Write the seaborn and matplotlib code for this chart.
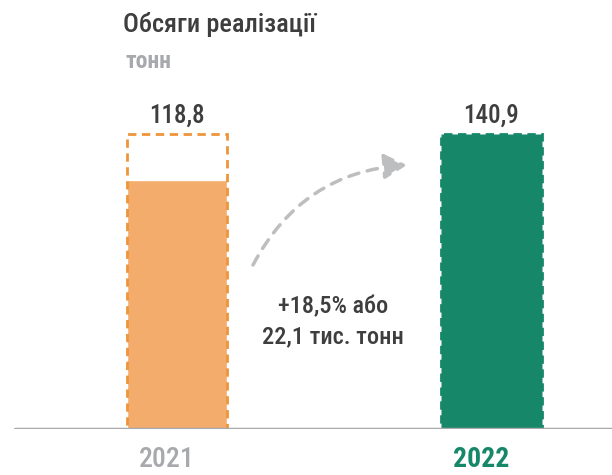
import matplotlib
matplotlib.use("Agg")
import matplotlib.pyplot as plt
import matplotlib.font_manager as fm
from matplotlib.transforms import ScaledTranslation
import seaborn as sns
import pandas as pd

# data
years = ["2021", "2022"]
volumes = [118.8, 140.9]
value_labels = ["118,8", "140,9"]
change_lines = ["+18,5% або", "22,1 тис. тонн"]
title = "Обсяги реалізації"
unit = "тонн"

ORANGE = "#F3AC6B"
ORANGE_EDGE = "#EE953A"
GREEN = "#17876A"
GREY = "#A7A9AC"
DARK = "#3E3E3E"

sns.set_theme(style="white")

# look for a narrow font, the original uses a condensed face
font = {"family": "Roboto", "stretch": "normal"}
names = {f.name for f in fm.fontManager.ttflist}
narrow = [f for f in fm.fontManager.ttflist
          if f.stretch in ("condensed", "semi-condensed", "extra-condensed")
          and f.name in ("Roboto", "Noto Sans", "Open Sans", "DejaVu Sans", "Liberation Sans")]
if "Roboto Condensed" in names:
    font = {"family": "Roboto Condensed", "stretch": "normal"}
elif "Liberation Sans Narrow" in names:
    font = {"family": "Liberation Sans Narrow", "stretch": "normal"}
elif narrow:
    font = {"family": narrow[0].name, "stretch": narrow[0].stretch}
plt.rcParams["font.family"] = [font["family"], "DejaVu Sans"]
plt.rcParams["font.stretch"] = font["stretch"]

W, H = 612, 475
fig = plt.figure(figsize=(W / 100, H / 100), dpi=100)
base = 429
ax = fig.add_axes([0, (H - base) / H, 1, base / H])

df = pd.DataFrame({"year": years, "volume": volumes})
bar_w = 0.32
sns.barplot(data=df, x="year", y="volume", hue="year",
            palette=[ORANGE, GREEN], width=bar_w, legend=False, ax=ax,
            saturation=1)

top = max(volumes)
# dashed frame for 2021 up to the 2022 level
ax.bar(0, top, width=bar_w, fill=False, edgecolor=ORANGE_EDGE,
       linestyle=(0, (3, 2)), linewidth=2, zorder=3)
p = ax.patches[1]
p.set_edgecolor(GREEN)
p.set_linestyle((0, (3, 2)))
p.set_linewidth(2)

ax.set_xlim(-177 / 314.5, 1 + (W - 491.5) / 314.5)
ax.set_ylim(0, top * base / 295)
for s in ax.spines.values():
    s.set_visible(False)
ax.set_xticks([])
ax.set_yticks([])
ax.set_xlabel("")
ax.set_ylabel("")
ax.axhline(0, xmin=15 / W, xmax=1, color=GREY, lw=2.5, zorder=4)


def px(dx, dy):
    return ScaledTranslation(dx / 100, dy / 100, fig.dpi_scale_trans)


# value labels above the frame
for i, lab in enumerate(value_labels):
    ax.text(i, top, lab, ha="center", va="baseline", fontsize=18,
            color=DARK, fontweight="medium", transform=ax.transData + px(0, 11))

# year labels
for i, (yr, c) in enumerate(zip(years, [GREY, GREEN])):
    ax.text(i, 0, yr, ha="center", va="baseline", fontsize=20,
            color=c, fontweight="bold" if i == 1 else "medium",
            transform=ax.transData + px(-10, -38))

fig.text(123 / W, 1 - 32 / H, title, ha="left", va="baseline",
         fontsize=19, color=DARK, fontweight="medium")
fig.text(125 / W, 1 - 68 / H, unit, ha="left", va="baseline",
         fontsize=17, color=GREY, fontweight="bold")

for line, yb in zip(change_lines, [313, 343]):
    fig.text(333 / W, 1 - yb / H, line, ha="center", va="baseline",
             fontsize=17.5, color=DARK, fontweight="medium")

ax.annotate("", xy=(407 / W, (base - 165) / base), xycoords="axes fraction",
            xytext=(253 / W, (base - 265) / base), textcoords="axes fraction",
            arrowprops=dict(arrowstyle="-|>,head_length=1.0,head_width=0.55",
                            connectionstyle="arc3,rad=-0.28",
                            color="#BCBEC0", lw=2.5, linestyle=(0, (3, 2.5)),
                            shrinkA=0, shrinkB=0, mutation_scale=14))

fig.savefig("out.png", dpi=100)
